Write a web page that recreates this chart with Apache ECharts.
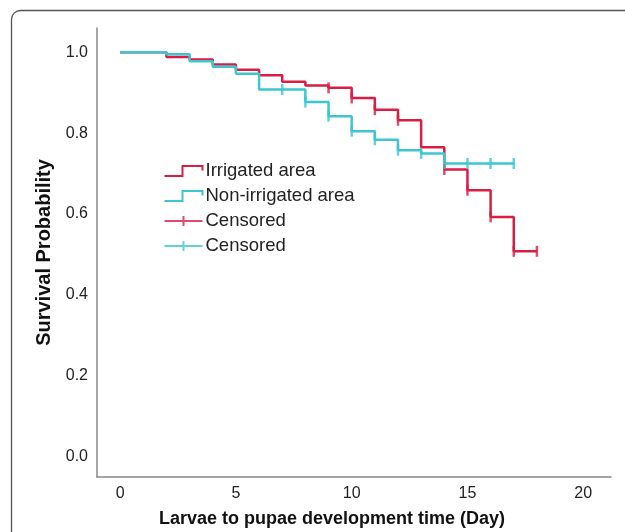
<!DOCTYPE html>
<html>
<head>
<meta charset="utf-8">
<style>
  html, body { margin: 0; padding: 0; background: #fff; }
  #main { width: 625px; height: 532px; }
</style>
<script src="https://cdn.jsdelivr.net/npm/echarts@6/dist/echarts.min.js"></script>
</head>
<body>
<div id="main"></div>
<script>
// Kaplan-Meier curves
var irrDays = [0, 2, 3, 4, 5, 6, 7, 8, 9, 10, 11, 12, 13, 14, 15, 16, 17, 18];
var irrSurv = [1.0, 0.988, 0.982, 0.970, 0.957, 0.943, 0.927, 0.918, 0.912, 0.887, 0.858, 0.832, 0.765, 0.710, 0.659, 0.593, 0.508, 0.508];
var nonDays = [0, 2, 3, 4, 5, 6, 8, 9, 10, 11, 12, 13, 14, 17];
var nonSurv = [1.0, 0.995, 0.978, 0.964, 0.947, 0.908, 0.877, 0.842, 0.805, 0.784, 0.758, 0.750, 0.725, 0.725];
// days with censored cases
var irrCensorDays = [9, 10, 11, 12, 14, 15, 16, 17, 18];
var nonCensorDays = [7, 8, 9, 10, 11, 12, 13, 14, 15, 16, 17];

var RED = '#d81e45';
var CYAN = '#3cc6cf';
var FONT = 'Arial, "Liberation Sans", sans-serif';

function pairs(days, vals) {
  return days.map(function (d, i) { return [d, vals[i]]; });
}

// value of the step curve at day d
function survAt(days, vals, d) {
  var v = vals[0];
  for (var i = 0; i < days.length; i++) {
    if (days[i] <= d) v = vals[i];
  }
  return v;
}

function censorPoints(cDays, days, vals) {
  return cDays.map(function (d) { return [d, survAt(days, vals, d)]; });
}

var chart = echarts.init(document.getElementById('main'), null, { renderer: 'canvas' });

var stepIcon = 'path://M0,9 L18,9 L18,0 L38,0 L38,4';
var plusIcon = 'path://M0,6 L38,6 M19,0 L19,12';

var option = {
  animation: false,
  backgroundColor: '#fff',
  graphic: [{
    type: 'rect',
    silent: true,
    shape: { x: 11.5, y: 10.5, width: 700, height: 600, r: 9 },
    style: { fill: 'none', stroke: '#555', lineWidth: 1.3 }
  }],
  grid: {
    left: 97,
    top: 28,
    right: 14,
    bottom: 55,
    containLabel: false,
    outerBoundsMode: 'none'
  },
  legend: {
    orient: 'vertical',
    left: 162,
    top: 161,
    padding: 0,
    itemWidth: 38,
    itemHeight: 10,
    itemGap: 5,
    symbolKeepAspect: false,
    selectedMode: false,
    textStyle: { fontFamily: FONT, fontSize: 18.5, color: '#222', lineHeight: 20, padding: [0, 0, 0, -2] },
    formatter: function (name) { return name.trim(); },
    data: [
      { name: 'Irrigated area', icon: stepIcon, itemStyle: { color: 'none', borderColor: RED, borderWidth: 2 } },
      { name: 'Non-irrigated area', icon: stepIcon, itemStyle: { color: 'none', borderColor: CYAN, borderWidth: 2 } },
      { name: 'Censored', icon: plusIcon, itemStyle: { color: 'none', borderColor: RED, borderWidth: 2 } },
      { name: 'Censored ', icon: plusIcon, itemStyle: { color: 'none', borderColor: CYAN, borderWidth: 2 } }
    ]
  },
  xAxis: {
    type: 'value',
    min: -1,
    max: 21.2,
    interval: 1,
    name: 'Larvae to pupae development time (Day)',
    nameLocation: 'middle',
    nameGap: 33,
    nameTextStyle: { fontFamily: FONT, fontSize: 18, fontWeight: 'bold', color: '#111', padding: [0, 44, 0, 0] },
    axisLine: { show: true, onZero: false, lineStyle: { color: '#888', width: 1.5 } },
    axisTick: { show: false },
    splitLine: { show: false },
    axisLabel: {
      margin: 9,
      fontFamily: FONT,
      fontSize: 16,
      color: '#222',
      formatter: function (v) {
        return (v >= 0 && v % 5 === 0) ? String(v) : '';
      }
    }
  },
  yAxis: {
    type: 'value',
    min: -0.05,
    max: 1.06,
    interval: 0.05,
    name: 'Survival Probability',
    nameLocation: 'middle',
    nameGap: 42,
    nameTextStyle: { fontFamily: FONT, fontSize: 20, fontWeight: 'bold', color: '#111' },
    axisLine: { show: true, onZero: false, lineStyle: { color: '#888', width: 1.5 } },
    axisTick: { show: false },
    splitLine: { show: false },
    axisLabel: {
      margin: 9,
      fontFamily: FONT,
      fontSize: 16,
      color: '#222',
      formatter: function (v) {
        var t = Math.round(v * 100);
        if (v < -0.001 || Math.abs(v * 100 - t) > 0.001 || t % 20 !== 0) return '';
        return (t / 100).toFixed(1);
      }
    }
  },
  series: [
    {
      name: 'Irrigated area',
      type: 'line',
      step: 'end',
      symbol: 'none',
      z: 2,
      lineStyle: { color: RED, width: 2.5 },
      itemStyle: { color: RED },
      data: pairs(irrDays, irrSurv)
    },
    {
      name: 'Non-irrigated area',
      type: 'line',
      step: 'end',
      symbol: 'none',
      z: 3,
      lineStyle: { color: CYAN, width: 2.5 },
      itemStyle: { color: CYAN },
      data: pairs(nonDays, nonSurv)
    },
    {
      name: 'Censored',
      type: 'scatter',
      symbol: 'rect',
      symbolSize: [2.5, 11],
      z: 4,
      itemStyle: { color: RED },
      data: censorPoints(irrCensorDays, irrDays, irrSurv)
    },
    {
      name: 'Censored ',
      type: 'scatter',
      symbol: 'rect',
      symbolSize: [2.5, 11],
      z: 5,
      itemStyle: { color: CYAN },
      data: censorPoints(nonCensorDays, nonDays, nonSurv)
    }
  ]
};

chart.setOption(option);
</script>
</body>
</html>
